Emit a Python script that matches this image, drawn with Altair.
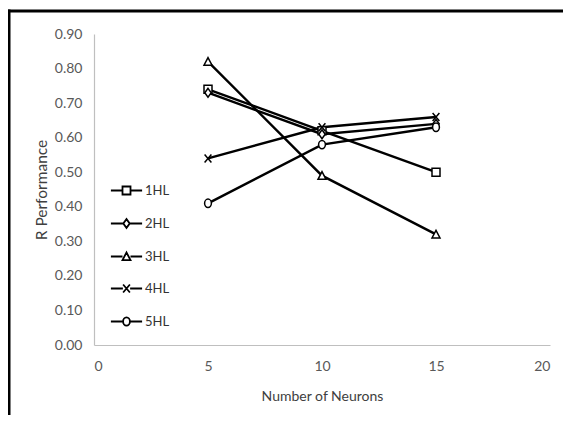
import altair as alt
import pandas as pd

neurons = [5, 10, 15]
series = ["1HL", "2HL", "3HL", "4HL", "5HL"]
hl1 = [0.74, 0.62, 0.50]
hl2 = [0.73, 0.61, 0.64]
hl3 = [0.82, 0.49, 0.32]
hl4 = [0.54, 0.63, 0.66]
hl5 = [0.41, 0.58, 0.63]
y_ticks = [0.0, 0.1, 0.2, 0.3, 0.4, 0.5, 0.6, 0.7, 0.8, 0.9]
x_ticks = [0, 5, 10, 15, 20]

values = [hl1, hl2, hl3, hl4, hl5]
rows = []
for s, vals in zip(series, values):
    for n, v in zip(neurons, vals):
        rows.append({"series": s, "legend_key": s, "neurons": n, "r": v})
df = pd.DataFrame(rows)

# marker shapes (unit box)
square = "M-1,-1H1V1H-1Z"
diamond = "M0,-1.1L0.8,0L0,1.1L-0.8,0Z"
triangle = "M-1,0.9L1,0.9L0,-1Z"
xmark = "M-0.85,-1L0.85,1M-0.85,1L0.85,-1"
circle = "M0.85,0A0.85,1.05,0,1,1,-0.85,0A0.85,1.05,0,1,1,0.85,0Z"
markers = [square, diamond, triangle, xmark, circle]
seg = "M-3.9,0H-1M1,0H3.9"
seg_d = "M-3.9,0H-0.8M0.8,0H3.9"
seg_x = "M-3.9,0H-0.9M0.9,0H3.9"
seg_c = "M-3.9,0H-0.85M0.85,0H3.9"
legend_paths = [seg + square, seg_d + diamond, seg + triangle, seg_x + xmark, seg_c + circle]

font = "Lato"

base = alt.Chart(df)

x_enc = alt.X("neurons:Q", title="Number of Neurons",
              scale=alt.Scale(domain=[0, 20], nice=False),
              axis=alt.Axis(values=x_ticks, format="d", titleFontSize=14))
y_enc = alt.Y("r:Q", title="R Performance",
              scale=alt.Scale(domain=[0, 0.9], nice=False),
              axis=alt.Axis(values=y_ticks, format=".2f", titleFontSize=15.5))

lines = base.mark_line(color="black", strokeWidth=2.4).encode(
    x=x_enc, y=y_enc, detail="series:N"
)

points = base.mark_point(filled=True, fill="white", stroke="black",
                         strokeWidth=1.5, opacity=1, size=64).encode(
    x=x_enc, y=y_enc,
    shape=alt.Shape("series:N", scale=alt.Scale(domain=series, range=markers), legend=None),
)

legend_layer = base.transform_filter("false").mark_point(
    filled=False, color="black", strokeWidth=1.8, size=64, opacity=1
).encode(
    x=x_enc, y=y_enc,
    shape=alt.Shape("legend_key:N", scale=alt.Scale(domain=series, range=legend_paths),
                    legend=alt.Legend(title=None, orient="none", legendX=26, legendY=150,
                                      padding=0, symbolSize=64, rowPadding=16,
                                      labelOffset=12, labelFont=font, labelFontSize=13,
                                      labelColor="#333333",
                                      symbolStrokeColor="black", symbolStrokeWidth=1.8,
                                      symbolOpacity=1)),
)

frame_df = pd.DataFrame({"k": [0]})
frame_left = alt.Chart(frame_df).mark_rule(color="black", strokeWidth=3).encode(
    x=alt.value(-85), y=alt.value(-24.5), y2=alt.value(400))
frame_top = alt.Chart(frame_df).mark_rule(color="black", strokeWidth=3).encode(
    x=alt.value(-86.5), x2=alt.value(600), y=alt.value(-23))

chart = alt.layer(frame_left, frame_top, lines, points, legend_layer).resolve_scale(
    shape="independent"
).resolve_legend(shape="independent").properties(
    width=456, height=311,
    autosize="none",
    padding={"left": 86, "top": 26, "right": 13, "bottom": 70},
).configure_view(stroke=None).configure_axis(
    grid=False, ticks=False, domainColor="#bfbfbf", domainWidth=1.2,
    labelFont=font, labelFontSize=14, labelColor="#595959",
    titleFont=font, titleColor="#404040", titleFontWeight="normal",
).configure_axisX(labelPadding=14, titlePadding=16).configure_axisY(
    labelPadding=12, titlePadding=5
)

chart.save("out.html", embed_options={"renderer": "svg", "actions": False})
